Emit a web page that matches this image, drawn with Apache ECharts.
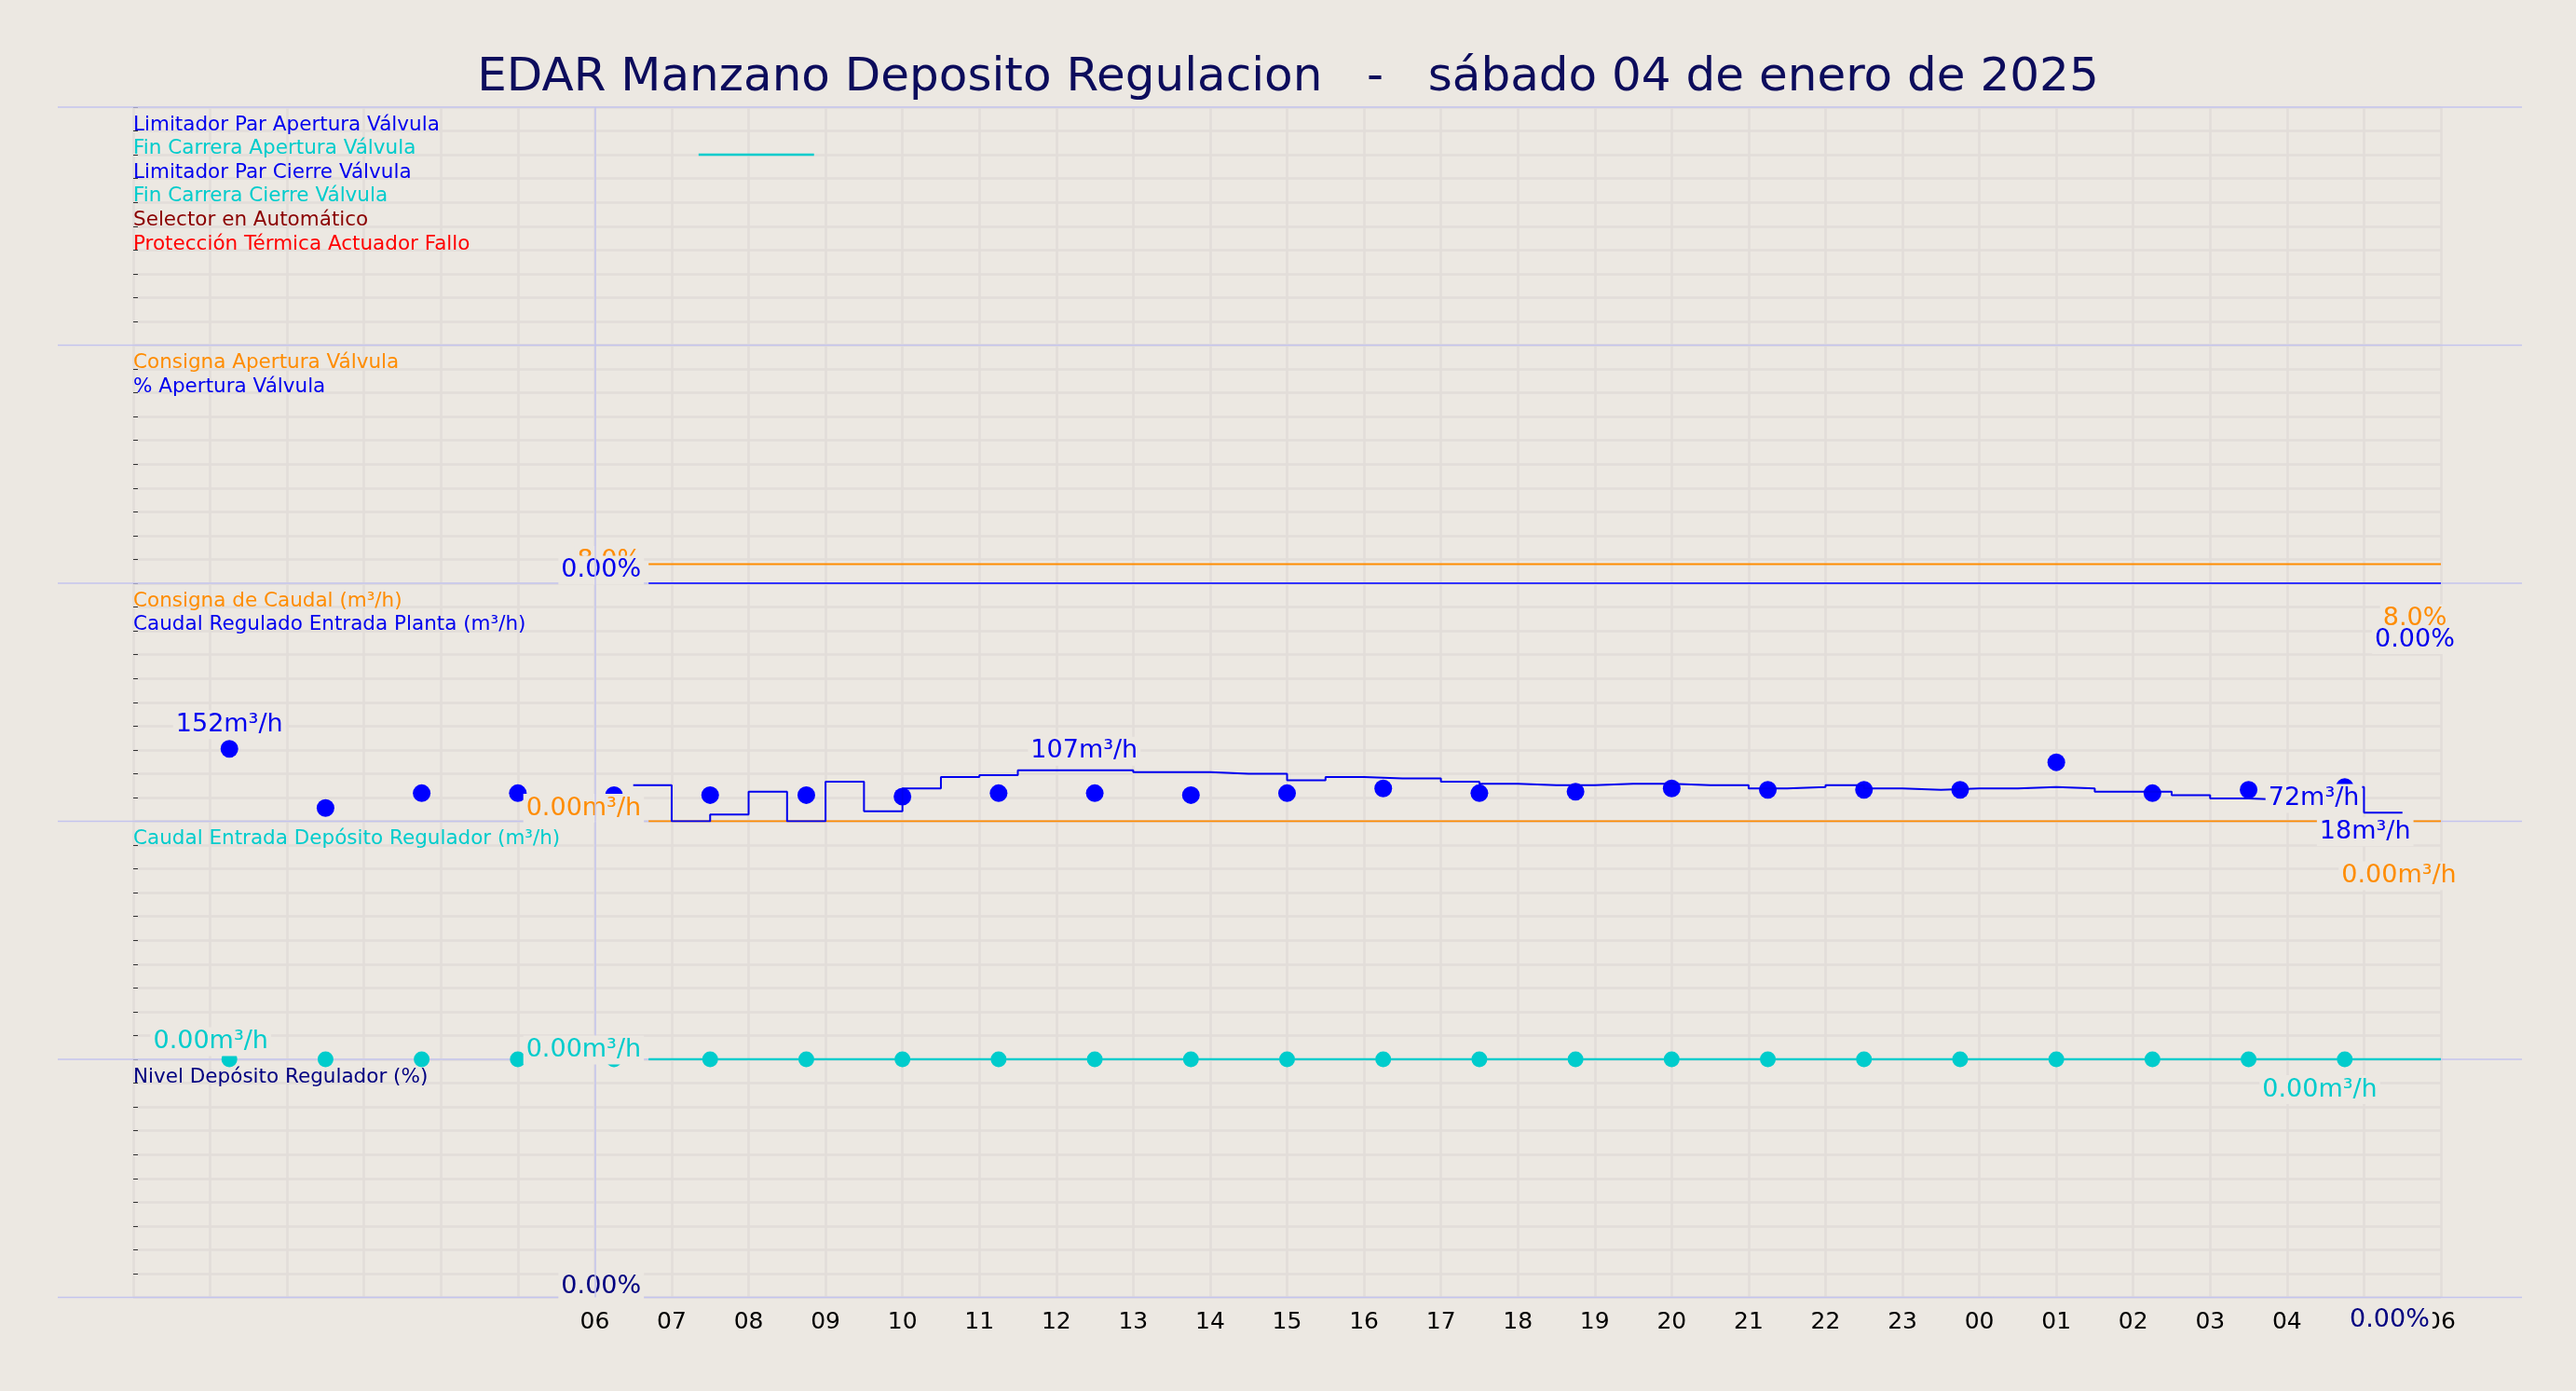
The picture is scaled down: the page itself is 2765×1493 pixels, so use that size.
<!DOCTYPE html>
<html><head><meta charset="utf-8">
<script src="https://cdn.jsdelivr.net/npm/echarts@6/dist/echarts.min.js"></script>
<style>html,body{margin:0;padding:0;background:#ece8e2}#c{width:2765px;height:1493px}</style>
</head><body><div id="c"></div>
<script>
const title = 'EDAR Manzano Deposito Regulacion   -   sábado 04 de enero de 2025';
const legends = [
  [['Limitador Par Apertura Válvula','#0000ee'],['Fin Carrera Apertura Válvula','#00cccc'],['Limitador Par Cierre Válvula','#0000ee'],['Fin Carrera Cierre Válvula','#00cccc'],['Selector en Automático','#8b0000'],['Protección Térmica Actuador Fallo','#ff0000']],
  [['Consigna Apertura Válvula','#ff8c00'],['% Apertura Válvula','#0000ee']],
  [['Consigna de Caudal (m³/h)','#ff8c00'],['Caudal Regulado Entrada Planta (m³/h)','#0000ee']],
  [['Caudal Entrada Depósito Regulador (m³/h)','#00cccc']],
  [['Nivel Depósito Regulador (%)','#000080']]
];
// hours from 00:00 of 04/01
const dotHours = [1.25,2.5,3.75,5,6.25,7.5,8.75,10,11.25,12.5,13.75,15,16.25,17.5,18.75,20,21.25,22.5,23.75,25,26.25,27.5,28.75];
const dotFlow = [152,28,59,59,55,55,55,52,59,59,55,59,69,59,62,69,66,66,66,124,59,66,72];
const dotInflow = [0,0,0,0,0,0,0,0,0,0,0,0,0,0,0,0,0,0,0,0,0,0,0];
const stepHours = [6.5,7,7.5,8,8.5,9,9.5,10,10.5,11,11.5,12,12.5,13,13.5,14,14.5,15,15.5,16,16.5,17,17.5,18,18.5,19,19.5,20,20.5,21,21.5,22,22.5,23,23.5,24,24.5,25,25.5,26,26.5,27,27.5,28,28.5,29,29.5];
const stepFlow = [76,0,14,62,0,83,21,69,93,97,107,107,107,103,103,100,100,86,93,90,90,83,79,76,76,79,79,76,76,69,72,76,69,66,69,69,72,69,62,62,55,48,45,72,72,18,18];
const setHours = [6.7,30];
const setFlow = [0,0];
const inflowLineHours = [6.7,30];
const inflowLine = [0,0];
const valveHours = [6.7,30];
const valveSet = [8,8];
const valveOpen = [0,0];
const levelHours = [6.7,30];
const level = [0,0];
const digHours = [7.35,8.85];
const digFc = [8,8];

const L=143, R=145, TOP=115, H=255.5;
const bg='#ece8e2';
const grids=[],xAxes=[],yAxes=[],series=[],graphics=[];
const ymax=[10,100,500,500,100];
for(let i=0;i<5;i++){
  grids.push({left:L,right:R,top:TOP+i*H,height:H});
  xAxes.push({type:'value',gridIndex:i,min:0,max:30,interval:1,
    axisLine:{show:false},axisTick:{show:false},
    axisLabel:{show:i===4,fontSize:25,color:'#000',fontFamily:'DejaVu Sans',margin:14,
      formatter:v=>v<6?'':String(v%24).padStart(2,'0')},
    splitLine:{show:true,lineStyle:{color:'#e2ddd9',width:2.5}}});
  yAxes.push({type:'value',gridIndex:i,min:0,max:ymax[i],interval:ymax[i]/10,position:'right',
    axisLine:{show:false},axisTick:{show:true,length:5,lineStyle:{color:'#333'}},axisLabel:{show:false},
    splitLine:{show:true,lineStyle:{color:'#e2ddd9',width:2.5}}});
  graphics.push({type:'line',shape:{x1:62,y1:TOP+i*H,x2:2707,y2:TOP+i*H},style:{stroke:'#c4c4ee',lineWidth:1.5},z:1});
  legends[i].forEach((l,k)=>graphics.push({type:'text',left:L,top:TOP+i*H+8+k*25.6,
    style:{text:l[0],fill:l[1],font:'21.5px "DejaVu Sans"'},z:10}));
  series.push({type:'line',xAxisIndex:i,yAxisIndex:i,data:[],silent:true,
    markLine:{symbol:'none',silent:true,label:{show:false},lineStyle:{color:'#c4c4ee',width:1.5,type:'solid'},data:[{xAxis:6}]}});
}
graphics.push({type:'line',shape:{x1:62,y1:TOP+5*H,x2:2707,y2:TOP+5*H},style:{stroke:'#c4c4ee',lineWidth:1.5},z:1});
const zip=(a,b)=>a.map((v,i)=>[v,b[i]]);
const lab=(color,pos,extra)=>Object.assign({show:true,color,fontSize:27,fontFamily:'DejaVu Sans',position:pos,backgroundColor:bg,padding:[2,3]},extra||{});
function ends(xs,ys,fmt,color,pFirst,pLast,oFirst,oLast){
  return xs.map((x,i)=>{
    const d={value:[x,ys[i]]};
    if(i===0) d.label=lab(color,pFirst,{formatter:fmt(ys[i]),offset:oFirst||[0,0]});
    if(i===xs.length-1) d.label=lab(color,pLast,{formatter:fmt(ys[i]),offset:oLast||[0,0]});
    return d;});
}
const m3=v=>(v===0?'0.00':v)+'m³/h';
const pc=v=>v.toFixed(v===0?2:1)+'%';
const noSym={symbol:'circle',symbolSize:0.1,showSymbol:true,showAllSymbol:true};
// panel 1
series.push({type:'line',xAxisIndex:0,yAxisIndex:0,data:zip(digHours,digFc),symbol:'none',lineStyle:{color:'#00cccc',width:2.5}});
// panel 2
series.push(Object.assign({type:'line',xAxisIndex:1,yAxisIndex:1,data:ends(valveHours,valveSet,pc,'#ff8c00','left','bottom',[0,-4],[-28,38]),lineStyle:{color:'#ff8c00',width:2},itemStyle:{color:'#ff8c00'}},noSym));
series.push(Object.assign({type:'line',xAxisIndex:1,yAxisIndex:1,data:ends(valveHours,valveOpen,pc,'#0000ee','left','bottom',[0,-14],[-28,40]),lineStyle:{color:'#3333ff',width:2},itemStyle:{color:'#0000ee'}},noSym));
// panel 3
series.push(Object.assign({type:'line',xAxisIndex:2,yAxisIndex:2,data:ends(setHours,setFlow,m3,'#ff8c00','left','bottom',[0,-14],[-45,38]),lineStyle:{color:'#ff8c00',width:2},itemStyle:{color:'#ff8c00'}},noSym));
const stepData=stepHours.map((x,i)=>{const d={value:[x,stepFlow[i]]};
  if(i===11) d.label=lab('#0000ee','top',{formatter:'107m³/h',offset:[30,0]});
  if(i===42) d.label=lab('#0000ee','bottom',{formatter:'72m³/h',offset:[70,-22]});
  if(i===46) d.label=lab('#0000ee','bottom',{formatter:'18m³/h',offset:[-40,0]});
  return d;});
series.push(Object.assign({type:'line',step:'end',xAxisIndex:2,yAxisIndex:2,data:stepData,lineStyle:{color:'#0000ee',width:2},itemStyle:{color:'#0000ee'}},noSym));
series.push({type:'scatter',xAxisIndex:2,yAxisIndex:2,symbolSize:19,itemStyle:{color:'#0000ff',opacity:1},
  data:dotHours.map((x,i)=>{const d={value:[x,dotFlow[i]]};if(i===0)d.label=lab('#0000ee','top',{formatter:'152m³/h',offset:[0,4]});return d;})});
// panel 4
series.push({type:'scatter',xAxisIndex:3,yAxisIndex:3,symbolSize:17,itemStyle:{color:'#00cccc',opacity:1},
  data:dotHours.map((x,i)=>{const d={value:[x,dotInflow[i]]};if(i===0)d.label=lab('#00cccc','top',{formatter:'0.00m³/h',offset:[-20,10]});return d;})});
series.push(Object.assign({type:'line',xAxisIndex:3,yAxisIndex:3,data:ends(inflowLineHours,inflowLine,m3,'#00cccc','left','bottom',[0,-10],[-130,12]),lineStyle:{color:'#00cccc',width:2.5},itemStyle:{color:'#00cccc'},z:5},noSym));
// panel 5
series.push(Object.assign({type:'line',xAxisIndex:4,yAxisIndex:4,data:ends(levelHours,level,pc,'#000080','left','bottom',[0,-12],[-55,4]),lineStyle:{color:'#c4c4ee',width:1},itemStyle:{color:'#c4c4ee'}},noSym));

const chart=echarts.init(document.getElementById('c'));
chart.setOption({backgroundColor:bg,animation:false,
  title:{text:title,left:'center',top:54,textStyle:{color:'#0c0c5c',fontSize:50,fontWeight:'normal',fontFamily:'DejaVu Sans'}},
  grid:grids,xAxis:xAxes,yAxis:yAxes,series,graphic:graphics});
</script></body></html>
